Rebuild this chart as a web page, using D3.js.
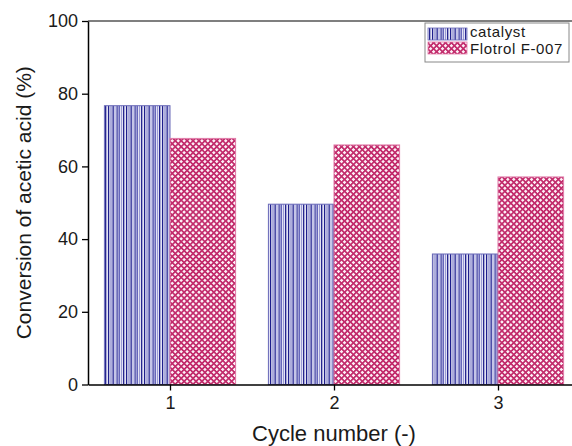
<!DOCTYPE html>
<html>
<head>
<meta charset="utf-8">
<script src="https://cdn.jsdelivr.net/npm/d3@7.9.0/dist/d3.min.js"></script>
<style>
  body { margin: 0; background: #fff; }
  svg { display: block; font-family: "Liberation Sans", Arial, sans-serif; }
  .tick text { fill: #1a1a1a; }
</style>
</head>
<body>
<svg id="chart" width="572" height="446"></svg>
<script>
// data
const cycles = [1, 2, 3];
const seriesNames = ["catalyst", "Flotrol F-007"];
const catalyst = [76.7, 49.6, 35.9];
const flotrol = [67.7, 65.9, 57.1];
const yTicks = [0, 20, 40, 60, 80, 100];

const svg = d3.select('#chart');
const defs = svg.append('defs');

// vertical blue stripes
const stripes = defs.append('pattern')
    .attr('id', 'stripes')
    .attr('patternUnits', 'userSpaceOnUse')
    .attr('width', 18).attr('height', 10);
stripes.append('rect').attr('width', 18).attr('height', 10).attr('fill', '#e2e2f4');
[[0, 1.2, '#1e1e8c'], [2.5, 1, '#7878c4'], [4.5, 1.3, '#2a2a96'], [6.5, 1, '#a8a8dc'],
 [8.5, 1.2, '#3a3aa0'], [10.5, 1.4, '#5858b4'], [13, 1, '#9a9ad4'], [15, 1.3, '#26268f']]
    .forEach(([x, w, c]) => {
        stripes.append('rect').attr('x', x).attr('width', w).attr('height', 10).attr('fill', c);
    });

// pink diagonal cross hatch
const hatch = defs.append('pattern')
    .attr('id', 'hatch')
    .attr('patternUnits', 'userSpaceOnUse')
    .attr('width', 4.2).attr('height', 4.2)
    .attr('patternTransform', 'rotate(45)');
hatch.append('rect').attr('width', 4.2).attr('height', 4.2).attr('fill', '#fdf0f6');
hatch.append('rect').attr('width', 4.2).attr('height', 1.7).attr('fill', '#c22c6c');
hatch.append('rect').attr('width', 1.7).attr('height', 4.2).attr('fill', '#c22c6c');

const x = d3.scaleLinear().domain([0.5, 3.5]).range([88, 580]);
const y = d3.scaleLinear().domain([0, 100]).range([384.5, 21]);
const barW = 0.4;

const fills = ['url(#stripes)', 'url(#hatch)'];
const strokes = ['#6a6ab8', '#e07aa8'];

// bars
[catalyst, flotrol].forEach((vals, s) => {
    svg.append('g').selectAll('rect')
        .data(vals)
        .join('rect')
        .attr('x', (d, i) => x(cycles[i] + (s === 0 ? -barW : 0)))
        .attr('y', d => y(d))
        .attr('width', x(barW) - x(0))
        .attr('height', d => y(0) - y(d))
        .attr('fill', fills[s])
        .attr('stroke', strokes[s])
        .attr('stroke-width', 1);
});

// top frame line
svg.append('line')
    .attr('x1', x(0.5)).attr('x2', x(3.5))
    .attr('y1', y(100)).attr('y2', y(100))
    .attr('stroke', '#000').attr('stroke-width', 1.2);

// axes
const yAxis = svg.append('g')
    .attr('transform', `translate(${x(0.5)},0)`)
    .call(d3.axisLeft(y).tickValues(yTicks).tickSize(6).tickSizeOuter(0).tickPadding(4));
const xAxis = svg.append('g')
    .attr('transform', `translate(0,${y(0)})`)
    .call(d3.axisBottom(x).tickValues(cycles).tickFormat(d3.format('d')).tickSize(6).tickSizeOuter(0).tickPadding(6));

[xAxis, yAxis].forEach(a => {
    a.selectAll('text').attr('font-size', 18).attr('font-family', '"Liberation Sans", Arial, sans-serif');
    a.select('.domain').attr('stroke-width', 1.5);
    a.selectAll('.tick line').attr('stroke-width', 1.3);
});

// axis titles
svg.append('text')
    .attr('x', x(2)).attr('y', 441)
    .attr('text-anchor', 'middle')
    .attr('font-size', 22)
    .attr('fill', '#1a1a1a')
    .text('Cycle number (-)');

svg.append('text')
    .attr('transform', `translate(31,${(y(0) + y(100)) / 2}) rotate(-90)`)
    .attr('text-anchor', 'middle')
    .attr('font-size', 21)
    .attr('fill', '#1a1a1a')
    .text('Conversion of acetic acid (%)');

// legend
const legend = svg.append('g');
legend.append('rect')
    .attr('x', 425).attr('y', 23).attr('width', 144).attr('height', 39)
    .attr('fill', '#fff').attr('stroke', '#888').attr('stroke-width', 1);
seriesNames.forEach((name, i) => {
    legend.append('rect')
        .attr('x', 428).attr('y', 28 + i * 14).attr('width', 39).attr('height', 12)
        .attr('fill', fills[i]).attr('stroke', strokes[i]).attr('stroke-width', 0.8);
    legend.append('text')
        .attr('x', 470).attr('y', 37 + i * 17)
        .attr('font-size', 15)
        .attr('letter-spacing', 0.6)
        .attr('fill', '#1a1a1a')
        .text(name);
});
</script>
</body>
</html>
